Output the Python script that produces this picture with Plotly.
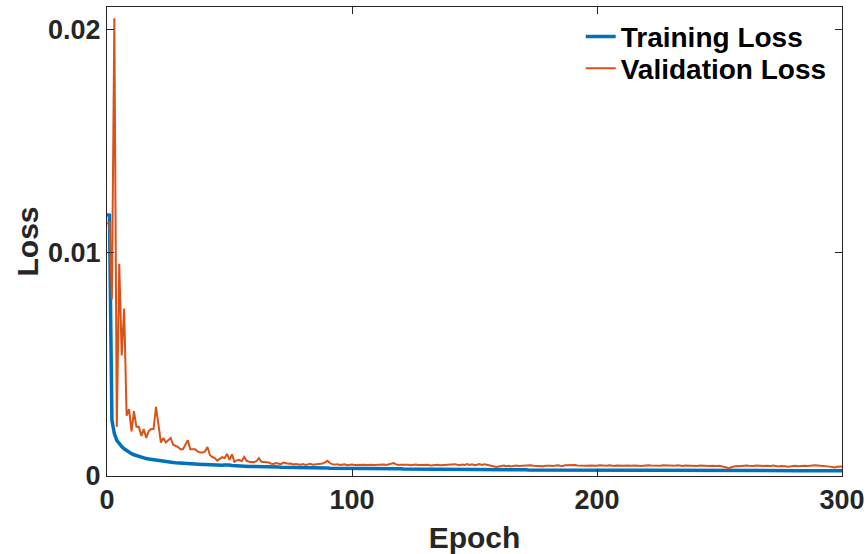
import plotly.graph_objects as go

epochs = list(range(0, 301))

training_loss = [
    0.01170, 0.01168, 0.00250, 0.00190, 0.00160, 0.00145, 0.00132, 0.00122, 0.00113, 0.00106,
    0.00100, 0.00095, 0.00091, 0.00087, 0.00084, 0.00081, 0.00078, 0.00076, 0.00074, 0.00072,
    0.00070, 0.00068, 0.00067, 0.00065, 0.00064, 0.00062, 0.00061, 0.00060, 0.00059, 0.00058,
    0.00057, 0.00056, 0.00056, 0.00055, 0.00054, 0.00053, 0.00053, 0.00052, 0.00052, 0.00051,
    0.00051, 0.00050, 0.00050, 0.00049, 0.00049, 0.00048, 0.00048, 0.00048, 0.00049, 0.00050,
    0.00049, 0.00047, 0.00046, 0.00046, 0.00045, 0.00045, 0.00044, 0.00044, 0.00043, 0.00043,
    0.00043, 0.00042, 0.00042, 0.00042, 0.00041, 0.00041, 0.00041, 0.00040, 0.00040, 0.00040,
    0.00040, 0.00039, 0.00039, 0.00039, 0.00039, 0.00038, 0.00038, 0.00038, 0.00038, 0.00038,
    0.00037, 0.00037, 0.00037, 0.00037, 0.00037, 0.00036, 0.00036, 0.00036, 0.00036, 0.00036,
    0.00036, 0.00035, 0.00035, 0.00035, 0.00035, 0.00035, 0.00035, 0.00034, 0.00034, 0.00034,
    0.00034, 0.00034, 0.00034, 0.00034, 0.00033, 0.00033, 0.00033, 0.00033, 0.00033, 0.00033,
    0.00033, 0.00033, 0.00032, 0.00032, 0.00032, 0.00032, 0.00032, 0.00032, 0.00032, 0.00032,
    0.00032, 0.00031, 0.00031, 0.00031, 0.00031, 0.00031, 0.00031, 0.00031, 0.00031, 0.00031,
    0.00031, 0.00030, 0.00030, 0.00030, 0.00030, 0.00030, 0.00030, 0.00030, 0.00030, 0.00030,
    0.00030, 0.00030, 0.00029, 0.00029, 0.00029, 0.00029, 0.00029, 0.00029, 0.00029, 0.00029,
    0.00029, 0.00029, 0.00029, 0.00029, 0.00028, 0.00028, 0.00028, 0.00028, 0.00028, 0.00028,
    0.00028, 0.00028, 0.00028, 0.00028, 0.00028, 0.00028, 0.00028, 0.00028, 0.00028, 0.00028,
    0.00028, 0.00028, 0.00027, 0.00027, 0.00027, 0.00027, 0.00027, 0.00027, 0.00027, 0.00027,
    0.00027, 0.00027, 0.00027, 0.00027, 0.00027, 0.00027, 0.00027, 0.00027, 0.00027, 0.00027,
    0.00027, 0.00027, 0.00027, 0.00027, 0.00027, 0.00027, 0.00027, 0.00027, 0.00027, 0.00027,
    0.00027, 0.00027, 0.00026, 0.00026, 0.00026, 0.00026, 0.00026, 0.00026, 0.00026, 0.00026,
    0.00026, 0.00026, 0.00026, 0.00026, 0.00026, 0.00026, 0.00026, 0.00026, 0.00026, 0.00026,
    0.00026, 0.00026, 0.00025, 0.00025, 0.00025, 0.00025, 0.00025, 0.00025, 0.00025, 0.00025,
    0.00025, 0.00025, 0.00025, 0.00025, 0.00025, 0.00025, 0.00025, 0.00025, 0.00025, 0.00025,
    0.00025, 0.00025, 0.00025, 0.00025, 0.00025, 0.00025, 0.00025, 0.00025, 0.00025, 0.00025,
    0.00025, 0.00024, 0.00024, 0.00024, 0.00024, 0.00024, 0.00024, 0.00024, 0.00024, 0.00024,
    0.00024, 0.00024, 0.00024, 0.00024, 0.00024, 0.00024, 0.00024, 0.00024, 0.00024, 0.00024,
    0.00024, 0.00024, 0.00024, 0.00024, 0.00024, 0.00024, 0.00024, 0.00024, 0.00024, 0.00024,
    0.00024, 0.00024, 0.00024, 0.00023, 0.00023, 0.00023, 0.00023, 0.00023, 0.00023, 0.00023,
    0.00023, 0.00023, 0.00023, 0.00023, 0.00023, 0.00023, 0.00023, 0.00023, 0.00023, 0.00023,
    0.00023,
]

validation_loss = [
    0.01130, 0.01135, 0.00790, 0.02050, 0.00220, 0.00950, 0.00540, 0.00750, 0.00270, 0.00300,
    0.00200, 0.00290, 0.00220, 0.00220, 0.00180, 0.00210, 0.00170, 0.00200, 0.00210, 0.00210,
    0.00310, 0.00240, 0.00150, 0.00170, 0.00150, 0.00160, 0.00170, 0.00140, 0.00135, 0.00130,
    0.00120, 0.00120, 0.00140, 0.00160, 0.00120, 0.00120, 0.00120, 0.00110, 0.00105, 0.00105,
    0.00110, 0.00130, 0.00094, 0.00085, 0.00080, 0.00069, 0.00075, 0.00084, 0.00080, 0.00099,
    0.00072, 0.00097, 0.00064, 0.00070, 0.00072, 0.00066, 0.00085, 0.00068, 0.00064, 0.00063,
    0.00062, 0.00066, 0.00080, 0.00064, 0.00062, 0.00060, 0.00061, 0.00055, 0.00054, 0.00058,
    0.00054, 0.00053, 0.00060, 0.00056, 0.00055, 0.00056, 0.00052, 0.00054, 0.00051, 0.00050,
    0.00053, 0.00049, 0.00052, 0.00055, 0.00050, 0.00051, 0.00054, 0.00052, 0.00056, 0.00061,
    0.00068, 0.00058, 0.00052, 0.00051, 0.00053, 0.00049, 0.00050, 0.00052, 0.00048, 0.00050,
    0.00051, 0.00049, 0.00050, 0.00048, 0.00052, 0.00050, 0.00049, 0.00051, 0.00050, 0.00049,
    0.00050, 0.00048, 0.00050, 0.00051, 0.00049, 0.00052, 0.00055, 0.00058, 0.00052, 0.00049,
    0.00050, 0.00051, 0.00049, 0.00050, 0.00048, 0.00050, 0.00051, 0.00049, 0.00050, 0.00048,
    0.00049, 0.00050, 0.00047, 0.00049, 0.00051, 0.00050, 0.00048, 0.00049, 0.00050, 0.00048,
    0.00049, 0.00052, 0.00053, 0.00050, 0.00048, 0.00051, 0.00049, 0.00053, 0.00049, 0.00052,
    0.00048, 0.00050, 0.00053, 0.00049, 0.00052, 0.00050, 0.00048, 0.00046, 0.00042, 0.00040,
    0.00043, 0.00045, 0.00047, 0.00044, 0.00046, 0.00043, 0.00045, 0.00047, 0.00045, 0.00046,
    0.00047, 0.00045, 0.00046, 0.00048, 0.00046, 0.00045, 0.00047, 0.00046, 0.00044, 0.00046,
    0.00047, 0.00046, 0.00045, 0.00047, 0.00048, 0.00046, 0.00045, 0.00048, 0.00049, 0.00050,
    0.00051, 0.00049, 0.00047, 0.00046, 0.00048, 0.00045, 0.00046, 0.00047, 0.00046, 0.00045,
    0.00046, 0.00048, 0.00047, 0.00045, 0.00046, 0.00048, 0.00046, 0.00045, 0.00047, 0.00046,
    0.00048, 0.00046, 0.00047, 0.00045, 0.00046, 0.00047, 0.00048, 0.00046, 0.00045, 0.00047,
    0.00046, 0.00048, 0.00047, 0.00046, 0.00045, 0.00047, 0.00046, 0.00048, 0.00047, 0.00046,
    0.00045, 0.00047, 0.00046, 0.00048, 0.00046, 0.00045, 0.00047, 0.00046, 0.00045, 0.00047,
    0.00046, 0.00045, 0.00047, 0.00046, 0.00048, 0.00046, 0.00045, 0.00046, 0.00044, 0.00045,
    0.00046, 0.00044, 0.00042, 0.00038, 0.00035, 0.00040, 0.00043, 0.00045, 0.00044, 0.00046,
    0.00045, 0.00047, 0.00046, 0.00044, 0.00045, 0.00047, 0.00046, 0.00044, 0.00045, 0.00046,
    0.00044, 0.00045, 0.00047, 0.00045, 0.00043, 0.00045, 0.00046, 0.00044, 0.00042, 0.00044,
    0.00045, 0.00046, 0.00044, 0.00045, 0.00047, 0.00046, 0.00045, 0.00047, 0.00046, 0.00048,
    0.00047, 0.00046, 0.00048, 0.00046, 0.00044, 0.00042, 0.00040, 0.00038, 0.00041, 0.00043,
    0.00042,
]

x_tick_vals = [0, 100, 200, 300]
x_tick_text = ["0", "100", "200", "300"]
y_tick_vals = [0, 0.01, 0.02]
y_tick_text = ["0", "0.01", "0.02"]

FONT = "Arial, 'Liberation Sans', sans-serif"
AXIS_COLOR = "#262626"
LEGEND_FONT = dict(family=FONT, size=28, color="black", weight="bold")

fig = go.Figure()
fig.add_trace(go.Scatter(
    x=epochs, y=training_loss, mode="lines", name="Training Loss",
    line=dict(color="#0072BD", width=3.5), legend="legend",
))
fig.add_trace(go.Scatter(
    x=epochs, y=validation_loss, mode="lines", name="Validation Loss",
    line=dict(color="#D95319", width=2), legend="legend2",
))

axis_common = dict(
    showgrid=False, zeroline=False, showline=True, linecolor=AXIS_COLOR, linewidth=1,
    mirror="allticks", ticks="inside", ticklen=7, tickwidth=1, tickcolor=AXIS_COLOR,
    tickfont=dict(family=FONT, size=27, color=AXIS_COLOR, weight="bold"),
)

legend_common = dict(
    xanchor="left", yanchor="top",
    bgcolor="rgba(255,255,255,0)", borderwidth=0,
    font=LEGEND_FONT, itemwidth=30,
)

fig.update_layout(
    width=868, height=554,
    margin=dict(l=107, r=26, t=7, b=78, autoexpand=False),
    paper_bgcolor="white", plot_bgcolor="white",
    showlegend=True,
    legend=dict(x=0.6445, y=0.990, **legend_common),
    legend2=dict(x=0.6445, y=0.922, **legend_common),
    xaxis=dict(
        range=[0, 300], tickvals=x_tick_vals, ticktext=x_tick_text,
        title=dict(text="Epoch", font=dict(family=FONT, size=30, color=AXIS_COLOR, weight="bold"), standoff=12),
        **axis_common,
    ),
    yaxis=dict(
        range=[0, 0.021], tickvals=y_tick_vals, ticktext=y_tick_text,
        title=dict(text="Loss", font=dict(family=FONT, size=30, color=AXIS_COLOR, weight="bold"), standoff=0),
        **axis_common,
    ),
)

fig.write_html(
    "out.html",
    config={"displayModeBar": False},
    post_script="document.body.style.margin='0';document.body.style.padding='0';",
)
